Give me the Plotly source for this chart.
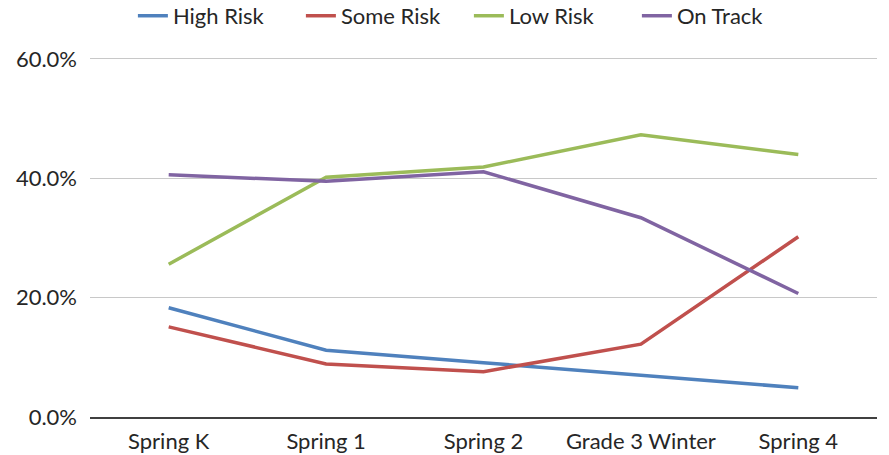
import plotly.graph_objects as go

categories = ["Spring K", "Spring 1", "Spring 2", "Grade 3 Winter", "Spring 4"]
high_risk = [0.183, 0.112, 0.091, 0.070, 0.049]
some_risk = [0.151, 0.089, 0.076, 0.122, 0.302]
low_risk = [0.256, 0.402, 0.419, 0.473, 0.440]
on_track = [0.406, 0.395, 0.411, 0.334, 0.207]
y_ticks = [0, 0.2, 0.4, 0.6]

series = [
    ("High Risk", high_risk, "#4F81BD"),
    ("Some Risk", some_risk, "#C0504D"),
    ("Low Risk", low_risk, "#9BBB59"),
    ("On Track", on_track, "#8064A2"),
]

fig = go.Figure()
for name, vals, color in series:
    fig.add_trace(go.Scatter(x=categories, y=vals, name=name, mode="lines",
                             line=dict(color=color, width=3.5)))

font_family = "Lato, Open Sans, sans-serif"
fig.update_layout(
    width=889, height=455,
    margin=dict(l=90, r=12, t=56, b=38, autoexpand=False),
    paper_bgcolor="white", plot_bgcolor="white",
    font=dict(family=font_family, size=22, color="#262626"),
    showlegend=True,
    legend=dict(orientation="h", x=0.0545, xanchor="left", y=0.965, yref="container",
                yanchor="middle", font=dict(size=22), itemwidth=30, traceorder="normal",
                entrywidth=123, entrywidthmode="pixels", bgcolor="rgba(0,0,0,0)"),
    xaxis=dict(range=[-0.5, 4.5], showgrid=False, showline=True, linecolor="#404040",
               linewidth=2, ticks="", tickfont=dict(size=22), ticklabelstandoff=4),
    yaxis=dict(range=[0, 0.605], tickvals=y_ticks, tickformat=".1%", showgrid=True,
               gridcolor="#C8C8C8", gridwidth=1.2, zeroline=False, showline=False,
               ticks="", tickfont=dict(size=22), ticklabelstandoff=12),
)

fig.write_html("out.html", config={"displayModeBar": False},
               post_script="document.body.style.margin='0';")
